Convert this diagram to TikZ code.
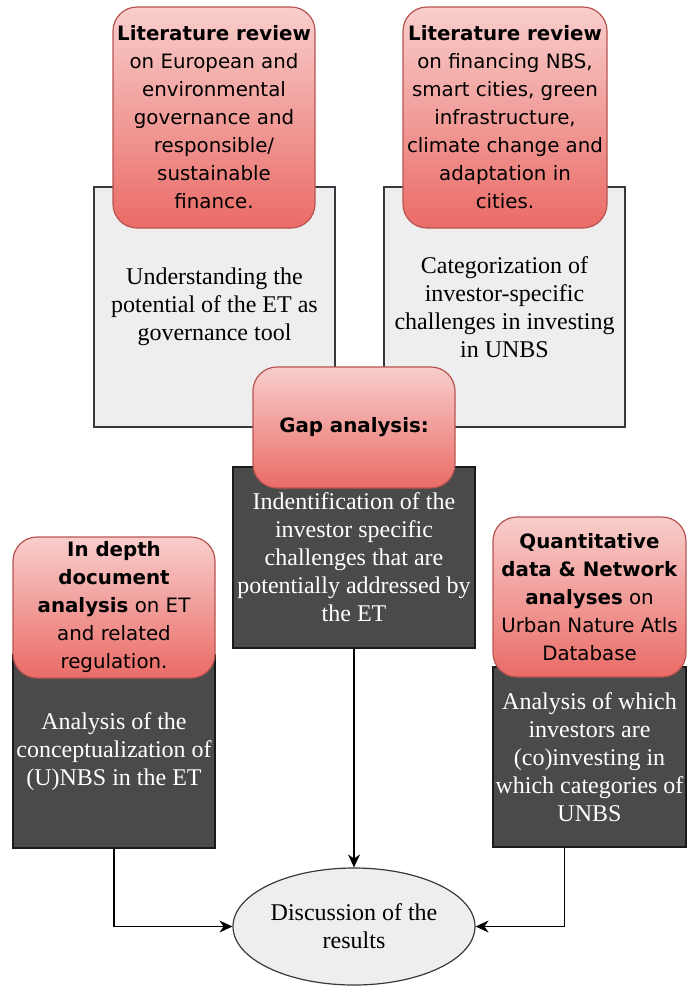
\documentclass[tikz,border=0pt]{standalone}
\usepackage{fontspec}
\setmainfont{Liberation Serif}
\newfontfamily\reviewfont{DejaVu Sans}
\usetikzlibrary{arrows.meta,shapes.geometric}
\definecolor{redtop}{HTML}{F8CECC}
\definecolor{redbottom}{HTML}{EA6B66}
\definecolor{redline}{HTML}{B85450}
\definecolor{graybox}{HTML}{EEEEEE}
\definecolor{grayline}{HTML}{36393D}
\definecolor{darkbox}{HTML}{4A4A4A}
\definecolor{darkline}{HTML}{1A1A1A}

\begin{document}
\begin{tikzpicture}[
    x=1pt, y=-1pt,
    review/.style={rectangle, rounded corners=24pt, draw=redline, line width=1.2pt,
        top color=redtop, bottom color=redbottom, inner sep=0pt, align=center,
        font=\reviewfont\fontsize{19.8}{28}\selectfont},
    result/.style={rectangle, draw=grayline, line width=1.2pt, fill=graybox,
        inner sep=0pt, align=center, font=\fontsize{24}{28}\selectfont},
    finding/.style={rectangle, draw=darkline, line width=1.2pt, fill=darkbox,
        text=white, inner sep=0pt, align=center, font=\fontsize{24}{28}\selectfont},
    outcome/.style={ellipse, draw=grayline, line width=1.2pt, fill=graybox,
        inner sep=0pt, align=center, font=\fontsize{24}{28}\selectfont},
    flow/.style={line width=1.4pt, -{Stealth[length=13pt, width=12pt]}}
]
    \useasboundingbox (0,0) rectangle (686,986);
    \node[result, minimum width=241pt, minimum height=240pt] (govres) at (214.5,307)
        {Understanding the\\potential of the ET as\\governance tool};
    \node[result, minimum width=241pt, minimum height=240pt] (invres) at (504.5,307)
        {Categorization of\\investor-specific\\challenges in investing\\in UNBS};
    \node[finding, minimum width=242pt, minimum height=181pt] (gapres) at (354,557.5)
        {Indentification of the\\investor specific\\challenges that are\\potentially addressed by\\the ET};
    \node[finding, minimum width=202pt, minimum height=193pt] (docres) at (114,751.5)
        {Analysis of the\\conceptualization of\\(U)NBS in the ET};
    \node[finding, minimum width=193pt, minimum height=180pt] (netres) at (589.5,757)
        {Analysis of which\\investors are\\(co)investing in\\which categories of\\UNBS};
    \node[review, minimum width=202pt, minimum height=221pt] (govrev) at (214,117.5)
        {\textbf{Literature review}\\on European and\\environmental\\governance and\\responsible/\\sustainable\\finance.};
    \node[review, minimum width=204pt, minimum height=221pt] (invrev) at (505,117.5)
        {\textbf{Literature review}\\on financing NBS,\\smart cities, green\\infrastructure,\\climate change and\\adaptation in\\cities.};
    \node[review, minimum width=202pt, minimum height=121pt] (gaprev) at (354,427.5)
        {\textbf{Gap analysis:}};
    \node[review, minimum width=202pt, minimum height=141pt] (docrev) at (114,607.5)
        {\textbf{In depth}\\\textbf{document}\\\textbf{analysis} on ET\\and related\\regulation.};
    \node[review, minimum width=193pt, minimum height=160pt] (netrev) at (589.5,597)
        {\textbf{Quantitative}\\\textbf{data \& Network}\\\textbf{analyses} on\\Urban Nature Atls\\Database};
    \node[outcome, minimum width=242pt, minimum height=117pt] (disc) at (354,926.5)
        {Discussion of the\\results};
    \draw[flow] (gapres.south) -- (disc.north);
    \draw[flow] (docres.south) |- (disc.west);
    \draw[flow] ([xshift=-25pt]netres.south) |- (disc.east);
\end{tikzpicture}
\end{document}
